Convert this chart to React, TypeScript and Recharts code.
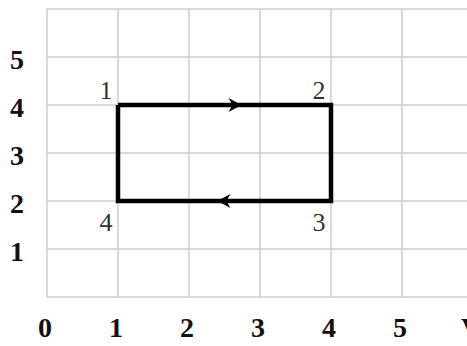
import { CartesianGrid, ComposedChart, Line, Scatter, XAxis, YAxis } from "recharts";

// cycle path, closed back to point 1
const pathX = [1, 4, 4, 1, 1];
const pathY = [4, 4, 2, 2, 4];

// corner labels
const cornerX = [1, 4, 4, 1];
const cornerY = [4, 4, 2, 2];
const cornerNames = ["1", "2", "3", "4"];

// arrow heads on the cycle
const arrowX = [2.74, 2.4];
const arrowY = [4, 2];
const arrowDir = [1, -1];

const xTicks = [0, 1, 2, 3, 4, 5, 6];
const xTickLabels = ["0", "1", "2", "3", "4", "5", "V"];
const yTicks = [0, 1, 2, 3, 4, 5, 6];
const yTickLabels = ["", "1", "2", "3", "4", "5", ""];

const pathData = pathX.map((x, i) => ({ x, y: pathY[i] }));
const cornerData = cornerX.map((x, i) => ({ x, y: cornerY[i], name: cornerNames[i] }));
const arrowData = arrowX.map((x, i) => ({ x, y: arrowY[i], dir: arrowDir[i] }));

const serif = "Liberation Serif";

const XTick = (p: any) => {
  const i = xTicks.indexOf(p.payload.value);
  return (
    <text x={p.x - 2} y={337} textAnchor="middle" style={{ fontFamily: serif, fontWeight: 700, fontSize: 28 }} fill="#111">
      {xTickLabels[i]}
    </text>
  );
};

const YTick = (p: any) => {
  const i = yTicks.indexOf(p.payload.value);
  return (
    <text x={17} y={p.y + 12} textAnchor="middle" style={{ fontFamily: serif, fontWeight: 700, fontSize: 28 }} fill="#111">
      {yTickLabels[i]}
    </text>
  );
};

const CornerLabel = (p: any) => {
  const above = p.payload.y > 3;
  return (
    <text
      x={p.cx - 12}
      y={above ? p.cy - 6 : p.cy + 30}
      textAnchor="middle"
      style={{ fontFamily: serif, fontSize: 26 }}
      fill="#333"
    >
      {p.payload.name}
    </text>
  );
};

const ArrowHead = (p: any) => {
  const d = p.payload.dir;
  const { cx, cy } = p;
  return (
    <path
      d={`M${cx},${cy} L${cx - 13 * d},${cy - 7} L${cx - 9 * d},${cy} L${cx - 13 * d},${cy + 7} Z`}
      fill="#000"
    />
  );
};

export default function App() {
  return (
    <div style={{ position: "absolute", left: 0, top: 0, width: 467, height: 346, overflow: "hidden", background: "#fff" }}>
      <ComposedChart width={480} height={346} margin={{ top: 9, right: 7, left: 7, bottom: 9 }}>
        <CartesianGrid stroke="#cdcdcd" strokeWidth={1.5} />
        <XAxis
          type="number"
          dataKey="x"
          domain={[0, 6]}
          ticks={xTicks}
          height={40}
          axisLine={false}
          tickLine={false}
          tick={<XTick />}
          interval={0}
        />
        <YAxis
          type="number"
          dataKey="y"
          domain={[0, 6]}
          ticks={yTicks}
          width={40}
          axisLine={false}
          tickLine={false}
          tick={<YTick />}
          interval={0}
        />
        <Line
          data={pathData}
          dataKey="y"
          type="linear"
          stroke="#000"
          strokeWidth={4.5}
          strokeLinejoin="miter"
          dot={false}
          activeDot={false}
          isAnimationActive={false}
        />
        <Scatter data={arrowData} dataKey="y" shape={<ArrowHead />} isAnimationActive={false} />
        <Scatter data={cornerData} dataKey="y" shape={<CornerLabel />} isAnimationActive={false} />
      </ComposedChart>
    </div>
  );
}
